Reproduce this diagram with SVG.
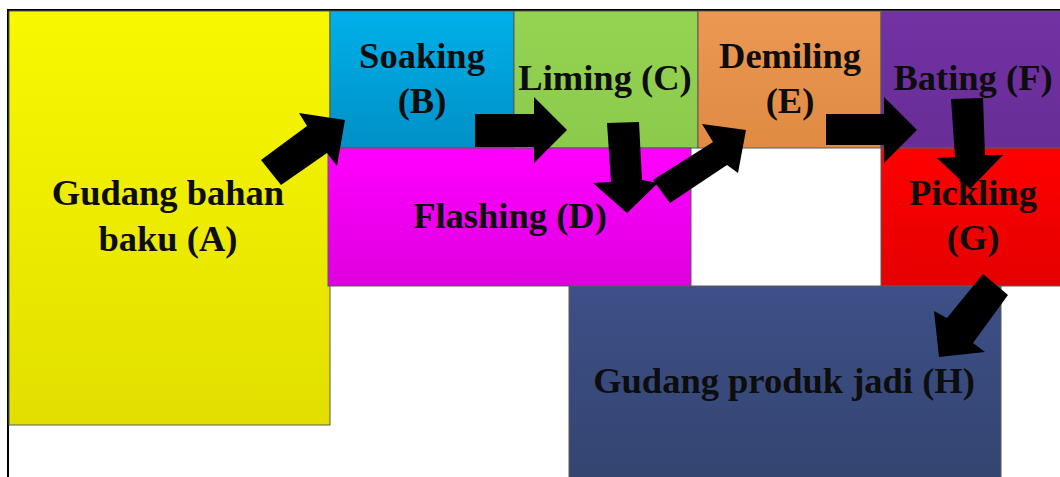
<svg xmlns="http://www.w3.org/2000/svg" width="1060" height="477" viewBox="0 0 1060 477">
<defs>
<style>
.box{stroke:#5a5a5a;stroke-width:1}
.t{font-family:"Liberation Serif","Times New Roman",serif;font-weight:bold;font-size:36.5px;fill:#0d0d0d;text-anchor:middle}
.arr{fill:#000}
</style>
<linearGradient id="gA" x1="0" y1="0" x2="0" y2="1"><stop offset="0" stop-color="#f8f800"/><stop offset="1" stop-color="#e2df00"/></linearGradient>
<linearGradient id="gB" x1="0" y1="0" x2="0" y2="1"><stop offset="0" stop-color="#00b0ea"/><stop offset="1" stop-color="#0090c6"/></linearGradient>
<linearGradient id="gC" x1="0" y1="0" x2="0" y2="1"><stop offset="0" stop-color="#95d353"/><stop offset="1" stop-color="#8cca4b"/></linearGradient>
<linearGradient id="gE" x1="0" y1="0" x2="0" y2="1"><stop offset="0" stop-color="#ec9853"/><stop offset="1" stop-color="#e08a42"/></linearGradient>
<linearGradient id="gF" x1="0" y1="0" x2="0" y2="1"><stop offset="0" stop-color="#7232a3"/><stop offset="1" stop-color="#682d96"/></linearGradient>
<linearGradient id="gD" x1="0" y1="0" x2="0" y2="1"><stop offset="0" stop-color="#ff00ff"/><stop offset="1" stop-color="#de00de"/></linearGradient>
<linearGradient id="gG" x1="0" y1="0" x2="0" y2="1"><stop offset="0" stop-color="#ff0000"/><stop offset="1" stop-color="#e40000"/></linearGradient>
<linearGradient id="gH" x1="0" y1="0" x2="0" y2="1"><stop offset="0" stop-color="#3d5088"/><stop offset="1" stop-color="#33446f"/></linearGradient>
</defs>
<rect x="0" y="0" width="1060" height="477" fill="#fff"/>
<rect x="8" y="10" width="1070" height="480" fill="none" stroke="#000" stroke-width="2"/>
<g id="nodeA"><rect class="box" x="9" y="11" width="321" height="414" fill="url(#gA)"/>
<text class="t" x="168" y="205">Gudang bahan</text><text class="t" x="168" y="251">baku (A)</text></g>
<g id="nodeB"><rect class="box" x="330" y="11" width="184" height="137" fill="url(#gB)"/>
<text class="t" x="422" y="68">Soaking</text><text class="t" x="422" y="113">(B)</text></g>
<g id="nodeC"><rect class="box" x="514" y="11" width="184" height="137" fill="url(#gC)"/>
<text class="t" x="605" y="90">Liming (C)</text></g>
<g id="nodeE"><rect class="box" x="698" y="11" width="183" height="137" fill="url(#gE)"/>
<text class="t" x="790" y="68">Demiling</text><text class="t" x="790" y="113">(E)</text></g>
<g id="nodeF"><rect class="box" x="881" y="11" width="190" height="137" fill="url(#gF)"/>
<text class="t" x="973" y="90">Bating (F)</text></g>
<g id="nodeD"><rect class="box" x="328" y="148" width="363" height="138" fill="url(#gD)"/>
<text class="t" x="510" y="228">Flashing (D)</text></g>
<g id="nodeG"><rect class="box" x="881" y="148" width="190" height="138" fill="url(#gG)"/>
<text class="t" x="973" y="205">Pickling</text><text class="t" x="973" y="250">(G)</text></g>
<g id="nodeH"><rect class="box" x="569" y="286" width="432" height="200" fill="url(#gH)"/>
<text class="t" x="784" y="393">Gudang produk jadi (H)</text></g>
<g id="connectors">
<polygon class="arr" points="261,160 307,126 299,113 345,120 337,166 327,153 281,185"/>
<polygon class="arr" points="475,114 534,114 534,97 567,130 534,163 534,147 475,147"/>
<polygon class="arr" points="607,123 639,122 642,180 658,183 627,213 593,183 611,182"/>
<polygon class="arr" points="653,180 713,142 702,124 746,130 738,173 727,165 670,203"/>
<polygon class="arr" points="826,114 884,114 884,97 917,130 884,163 884,145 826,145"/>
<polygon class="arr" points="951,99 983,98 985,155 1003,155 970,189 937,158 955,157"/>
<polygon class="arr" points="983,274 1008,295 973,343 985,352 939,357 934,311 947,318"/>
</g>
</svg>
